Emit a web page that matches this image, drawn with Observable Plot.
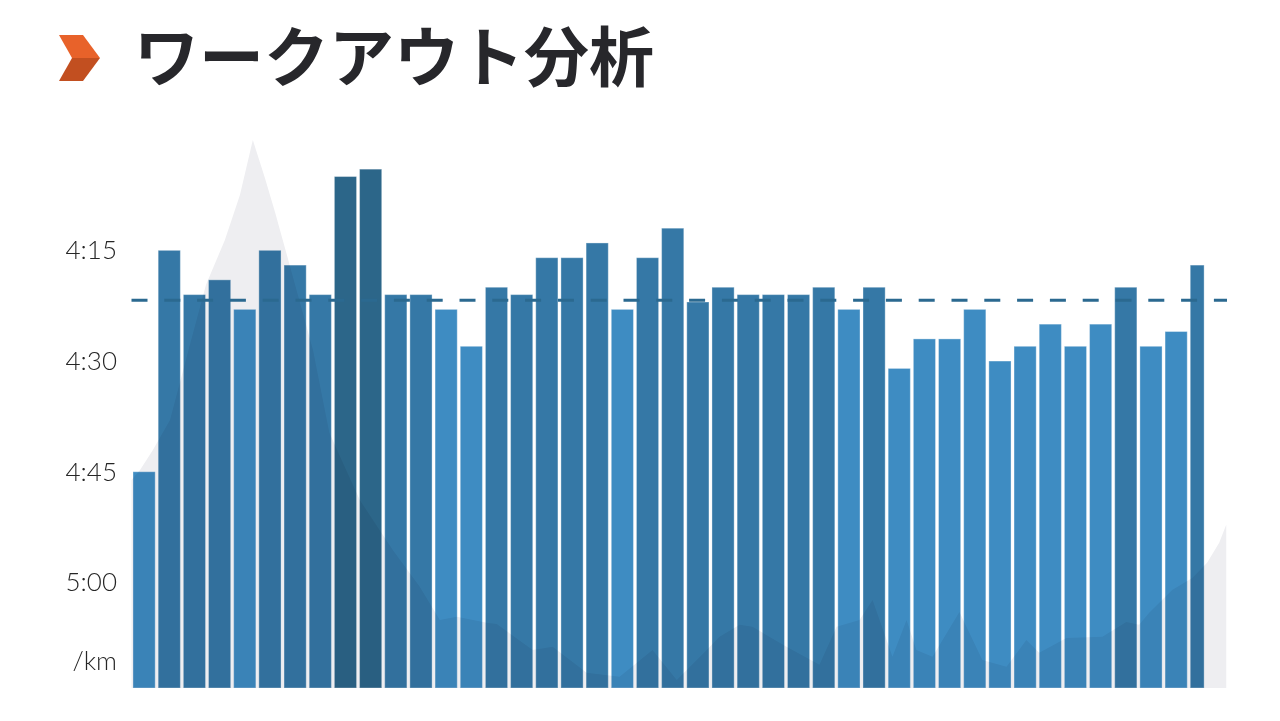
<!DOCTYPE html>
<html lang="ja">
<head>
<meta charset="utf-8">
<script src="https://cdn.jsdelivr.net/npm/d3@7"></script>
<script src="https://cdn.jsdelivr.net/npm/@observablehq/plot@0.6"></script>
<style>
  html, body { margin: 0; padding: 0; background: #fff; width: 1280px; height: 721px; overflow: hidden; }
  #header { position: relative; height: 110px; }
  .chev { position: absolute; left: 0; top: 0; width: 120px; height: 100px; }
  #title { position: absolute; left: 134px; top: 21px; font-family: "Noto Sans CJK JP", sans-serif; font-weight: 700; font-size: 65px; line-height: 1; color: #27272b; white-space: nowrap; letter-spacing: 0px; }
  #chart { position: absolute; left: 0; top: 110px; }
</style>
</head>
<body>
<div id="header">
  <svg class="chev" width="120" height="100" viewBox="0 0 120 100">
    <polygon points="59,35 83,35 100,58 72,58" fill="#e8622a"/>
    <polygon points="72,58 100,58 83,81 59,81" fill="#c24f20"/>
  </svg>
  <div id="title">ワークアウト分析</div>
</div>
<div id="chart"></div>
<script>
// Split paces (seconds per km), one per km split; last split is partial
const splitPaces = [285, 255, 261, 259, 263, 255, 257, 261, 245, 244,
                    261, 261, 263, 268, 260, 261, 256, 256, 254, 263,
                    256, 252, 262, 260, 261, 261, 261, 260, 263, 260,
                    271, 267, 267, 263, 270, 268, 265, 268, 265, 260,
                    268, 266, 257];
const lastSplitKm = 0.67;
const avgPace = 261.7;

// Elevation profile (distance km, elevation m)
const elevKm = [0, 0.34, 0.85, 1.53, 2.32, 2.96, 3.71, 4.31, 4.82, 5.30, 5.70, 6.17, 7.21, 7.86, 9.07, 10.38,
                11.45, 12.25, 12.92, 14.11, 14.51, 15.94, 16.73, 18.08, 19.39, 20.70, 21.66, 22.85, 23.36, 24.16,
                24.67, 26.02, 27.33, 28.01, 28.92, 29.44, 30.23, 30.79, 31.18, 31.82, 32.89, 33.80, 34.76, 35.55,
                36.06, 37.14, 38.57, 39.52, 40.03, 40.43, 41.34, 42.14, 42.73, 43.21, 43.49];
const elevM = [52, 54.5, 59.5, 67, 85.8, 100.8, 112, 123.3, 137, 127.5, 119, 108.3, 84.5, 63.8, 47, 34.5,
               25.3, 17, 17.8, 16.3, 16, 9.5, 10.3, 3.8, 2.8, 9.5, 2, 9.5, 12.8, 15.8,
               15.3, 10.3, 5.8, 15.3, 17, 22, 7.8, 17, 9.5, 7.8, 19, 7, 5.3, 12,
               8.8, 12.5, 12.8, 16.5, 15.8, 18.8, 24.5, 27.5, 31.3, 36.3, 40.8];

// Axis ticks
const tickValues = [255, 270, 285, 300, 310.6];
const tickLabels = ["4:15", "4:30", "4:45", "5:00", "/km"];

const paceMin = 240.05, paceMax = 314.3;   // y domain (fast at top)
const distMax = 43.52;
const elevMax = 137;

// Build tables
let start = 0;
const splits = splitPaces.map((p, i) => {
  const len = i === splitPaces.length - 1 ? lastSplitKm : 1;
  const o = {x1: start, x2: start + len, pace: p};
  start += len;
  return o;
});
const elevToPace = d3.scaleLinear().domain([0, elevMax]).range([paceMax, paceMin]);
const elev = elevKm.map((k, i) => ({km: k, y: elevToPace(elevM[i])}));

const chart = Plot.plot({
  width: 1280,
  height: 611,
  marginLeft: 131.5,
  marginRight: 53,
  marginTop: 30,
  marginBottom: 33,
  style: {fontFamily: "Lato, sans-serif", background: "transparent", overflow: "visible"},
  x: {domain: [0, distMax], axis: null},
  y: {domain: [paceMax, paceMin], axis: null},
  color: {type: "threshold", domain: [250, 262.5], range: ["#2c6689", "#3578a6", "#3e8cc2"]},
  marks: [
    Plot.rect(splits, {x1: "x1", x2: "x2", y1: paceMax, y2: "pace", fill: "pace",
                       insetLeft: 1.5, insetRight: 1.5, stroke: "#ffffff", strokeOpacity: 0.35, strokeWidth: 1}),
    Plot.areaY(elev, {x: "km", y1: paceMax, y2: "y", fill: "#eeeef1", mixBlendMode: "multiply"}),
    Plot.ruleY([avgPace], {stroke: "#2b6990", strokeWidth: 3, strokeDasharray: "16,16.8"}),
    Plot.axisY({ticks: tickValues, tickFormat: (d, i) => tickLabels[i], tickSize: 0, tickPadding: 15,
                fontSize: 26, fontWeight: 300, fill: "#262626"})
  ]
});
document.getElementById("chart").appendChild(chart);
</script>
</body>
</html>
